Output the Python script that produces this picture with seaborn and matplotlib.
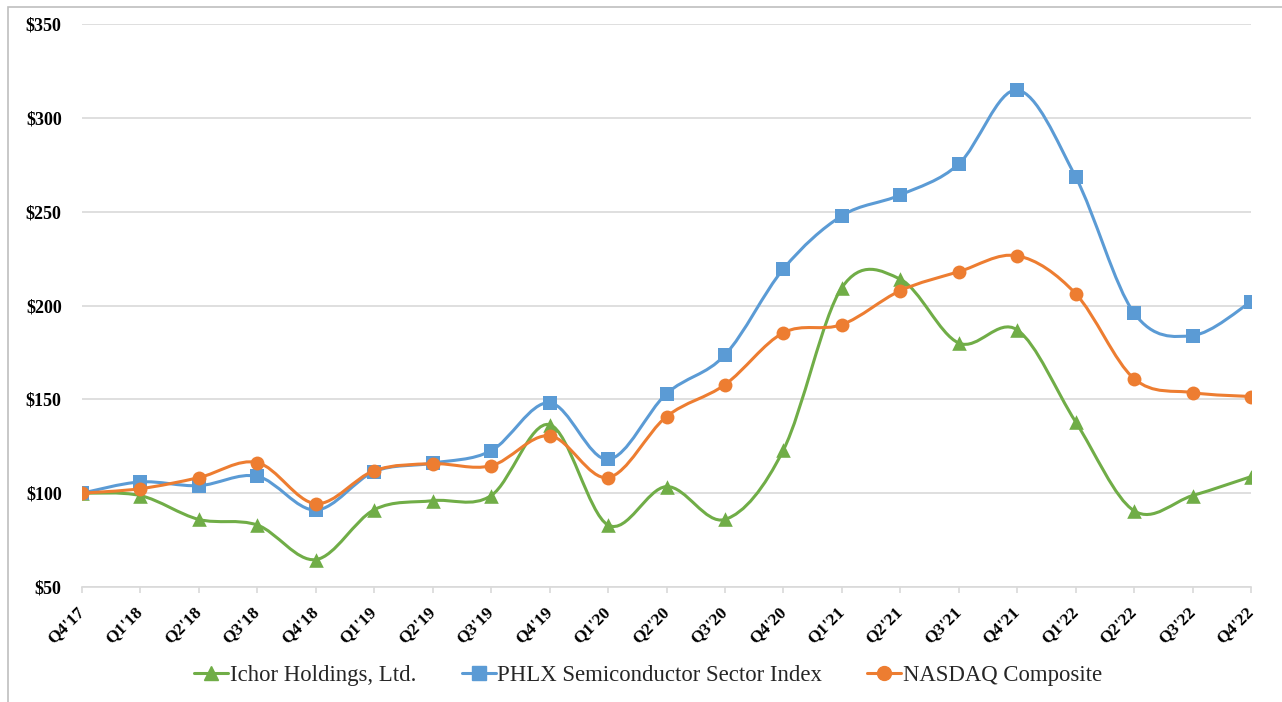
import numpy as np
import pandas as pd
import matplotlib
matplotlib.use("Agg")
import matplotlib.pyplot as plt
import seaborn as sns
from matplotlib.path import Path
from matplotlib.patches import PathPatch, Rectangle
from matplotlib.lines import Line2D

quarters = ["Q4'17", "Q1'18", "Q2'18", "Q3'18", "Q4'18", "Q1'19", "Q2'19", "Q3'19",
            "Q4'19", "Q1'20", "Q2'20", "Q3'20", "Q4'20", "Q1'21", "Q2'21", "Q3'21",
            "Q4'21", "Q1'22", "Q2'22", "Q3'22", "Q4'22"]
ichor = [100, 98.7, 86, 83, 64.6, 91.2, 96, 98.7, 136.5, 83, 103.5, 86, 123,
         209.5, 214, 180, 187, 138, 90.6, 98.7, 108.8]
phlx = [100, 106, 104, 109, 91, 111.5, 116, 122.6, 148.2, 118, 153, 173.6, 219.5,
        247.8, 258.9, 275.4, 314.8, 268.5, 196, 184, 202]
nasdaq = [100, 102.4, 108.3, 116.3, 94.4, 112, 115.7, 114.6, 130.6, 108.3, 140.8,
          157.8, 185.5, 189.8, 207.9, 218, 226.5, 206.3, 161, 153.6, 151.5]
series_names = ["Ichor Holdings, Ltd.", "PHLX Semiconductor Sector Index", "NASDAQ Composite"]
y_ticks = [50, 100, 150, 200, 250, 300, 350]
y_tick_labels = ["$50", "$100", "$150", "$200", "$250", "$300", "$350"]

colors = ["#70AD47", "#5B9BD5", "#ED7D31"]
markers = ["^", "s", "o"]
msizes = [10.5, 10, 10]
LW = 2.2

sns.set_theme(style="white")
plt.rcParams["font.family"] = ["Liberation Serif", "DejaVu Serif"]

fig = plt.figure(figsize=(12.82, 7.02), dpi=100)
ax = fig.add_axes([82 / 1282, 1 - 587 / 702, (1251 - 82) / 1282, (587 - 24) / 702])

# chart-area outline
fig.patches.append(Rectangle((8 / 1282, -0.05), 1.2, 1 - 7 / 702 + 0.05,
                             transform=fig.transFigure, fill=False,
                             edgecolor="#BFBFBF", linewidth=1.2, zorder=0))

x = np.arange(len(quarters))
df = pd.DataFrame({
    "x": np.tile(x, 3),
    "value": ichor + phlx + nasdaq,
    "series": np.repeat(series_names, len(quarters)),
})


def smooth_path(xs, ys):
    pts = np.column_stack([xs, ys]).astype(float)
    n = len(pts)
    verts = [pts[0]]
    codes = [Path.MOVETO]
    for i in range(n - 1):
        p0 = pts[i - 1] if i > 0 else pts[i]
        p1 = pts[i]
        p2 = pts[i + 1]
        p3 = pts[i + 2] if i + 2 < n else pts[i + 1]
        c1 = p1 + (p2 - p0) / 6.0
        c2 = p2 - (p3 - p1) / 6.0
        verts += [c1, c2, p2]
        codes += [Path.CURVE4] * 3
    return Path(verts, codes)


for i, (name, col, mk, ms) in enumerate(zip(series_names, colors, markers, msizes)):
    sub = df[df["series"] == name]
    z = 3 + 2 * i
    ax.add_patch(PathPatch(smooth_path(sub["x"].values, sub["value"].values),
                           facecolor="none", edgecolor=col, linewidth=LW,
                           zorder=z, capstyle="round", joinstyle="round"))
    sns.scatterplot(data=sub, x="x", y="value", ax=ax, color=col, marker=mk,
                    s=ms ** 2, edgecolor=col, linewidth=0, zorder=z + 1, legend=False)

ax.set_xlim(0, len(quarters) - 1)
ax.set_ylim(50, 350)
ax.set_yticks(y_ticks)
ax.set_yticklabels([t.replace("$", r"\$") for t in y_tick_labels],
                   fontsize=13, fontweight="bold")
ax.set_xticks(x)
ax.set_xticklabels(quarters, rotation=45, ha="right", va="center",
                   rotation_mode="anchor", fontsize=12.5, fontweight="bold")
ax.set_xlabel("")
ax.set_ylabel("")
ax.grid(axis="y", color="#D9D9D9", linewidth=1.2)
ax.grid(axis="x", visible=False)
for s in ["left", "right", "top"]:
    ax.spines[s].set_visible(False)
ax.spines["bottom"].set_color("#D9D9D9")
ax.spines["bottom"].set_linewidth(1.2)
ax.tick_params(axis="x", which="major", bottom=True, length=4.5, width=1.2,
               color="#D9D9D9", pad=11.5)
ax.tick_params(axis="y", left=False, pad=8.6)
for lbl in ax.get_yticklabels() + ax.get_xticklabels():
    lbl.set_color("black")

handles = [Line2D([0], [0], color=c, marker=m, markersize=ms, linewidth=LW)
           for c, m, ms in zip(colors, markers, msizes)]
fig.legend(handles, series_names, loc="center",
           bbox_to_anchor=(648 / 1282, 1 - 675.5 / 702),
           ncol=3, frameon=False, fontsize=16.4, handlelength=1.5,
           handletextpad=0.05, columnspacing=2.0)

fig.savefig("out.png", dpi=100, facecolor="white")
